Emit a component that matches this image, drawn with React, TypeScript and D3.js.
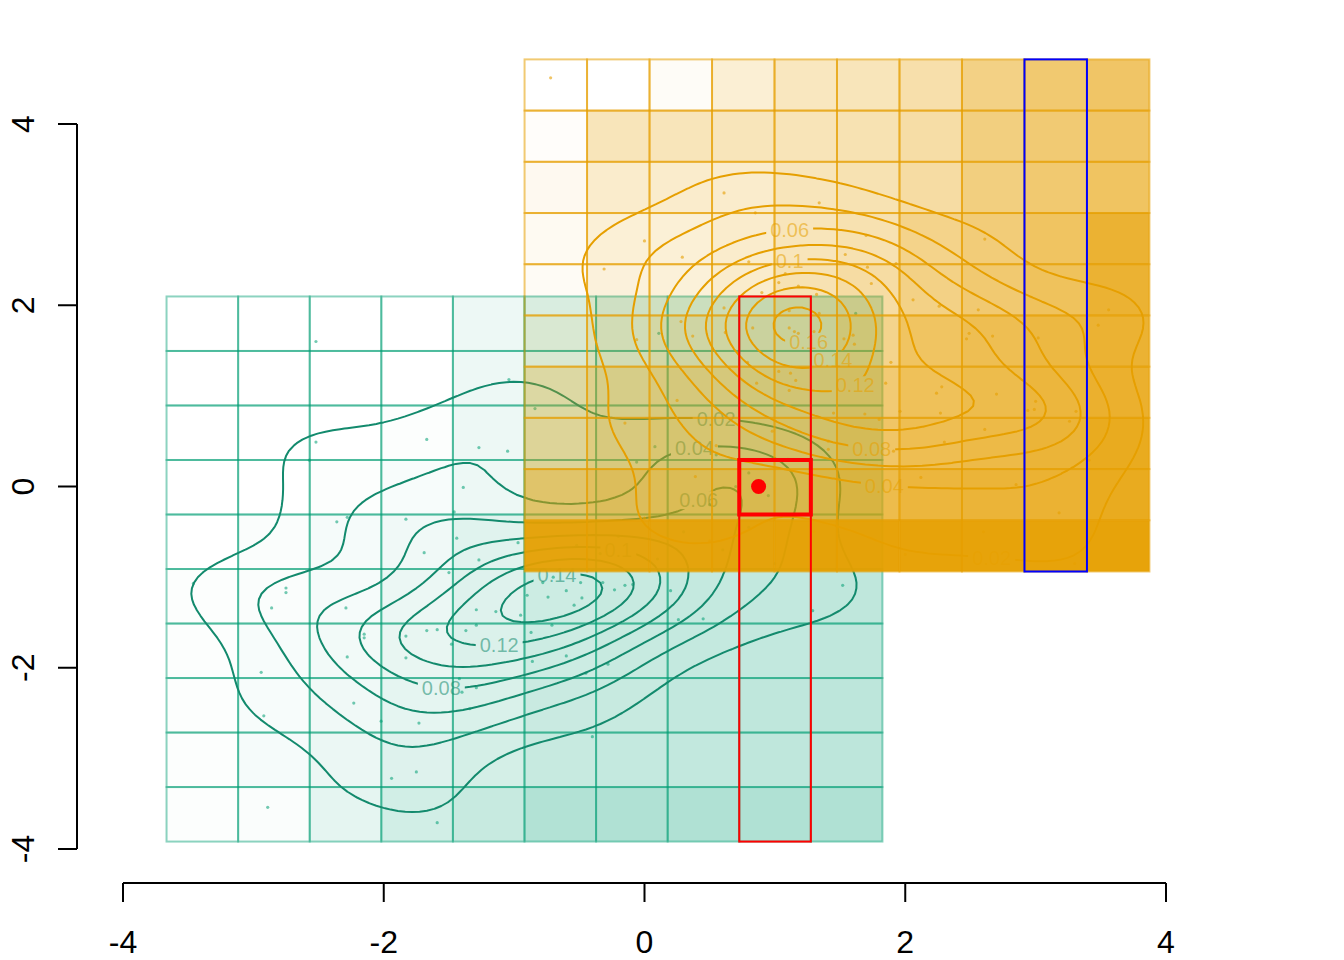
import React, { useMemo } from "react";
import * as d3 from "d3";

const W = 1344;
const H = 960;

const xTicks = [-4, -2, 0, 2, 4];
const yTicks = [-4, -2, 0, 2, 4];
const contourLevels = [0.02, 0.04, 0.06, 0.08, 0.1, 0.12, 0.14, 0.16, 0.18, 0.2];

// grid extents (sample ranges) of the two groups
const greenXRange = [-3.666, 1.825];
const greenYRange = [-3.918, 2.097];
const orangeXRange = [-0.92, 3.873];
const orangeYRange = [-0.938, 4.713];

// cell shading, row 0 = top row, col 0 = left column
const greenCellAlpha = [
  [0, 0, 0, 0, 0.07, 0.15, 0.2, 0.22, 0.25, 0.27],
  [0, 0, 0, 0, 0.07, 0.15, 0.2, 0.22, 0.25, 0.27],
  [0, 0, 0, 0.01, 0.07, 0.15, 0.2, 0.22, 0.25, 0.27],
  [0, 0, 0.01, 0.03, 0.07, 0.15, 0.2, 0.22, 0.25, 0.27],
  [0, 0.02, 0.04, 0.06, 0.12, 0.17, 0.2, 0.23, 0.25, 0.27],
  [0.01, 0.02, 0.04, 0.08, 0.13, 0.2, 0.22, 0.23, 0.24, 0.25],
  [0.01, 0.03, 0.05, 0.09, 0.14, 0.2, 0.22, 0.23, 0.24, 0.25],
  [0.01, 0.03, 0.06, 0.1, 0.15, 0.21, 0.22, 0.24, 0.25, 0.26],
  [0.01, 0.04, 0.08, 0.13, 0.17, 0.22, 0.23, 0.24, 0.25, 0.26],
  [0.01, 0.02, 0.1, 0.18, 0.22, 0.3, 0.31, 0.31, 0.31, 0.31],
];
const orangeCellAlpha = [
  [0, 0, 0.03, 0.17, 0.25, 0.27, 0.33, 0.48, 0.56, 0.6],
  [0.02, 0.27, 0.27, 0.27, 0.28, 0.3, 0.35, 0.5, 0.55, 0.6],
  [0.06, 0.2, 0.2, 0.2, 0.27, 0.3, 0.36, 0.5, 0.56, 0.62],
  [0.05, 0.16, 0.16, 0.2, 0.27, 0.31, 0.46, 0.53, 0.62, 0.8],
  [0.04, 0.14, 0.15, 0.2, 0.3, 0.36, 0.48, 0.56, 0.64, 0.8],
  [0.1, 0.2, 0.27, 0.28, 0.3, 0.45, 0.62, 0.68, 0.74, 0.8],
  [0.3, 0.4, 0.45, 0.45, 0.48, 0.55, 0.65, 0.7, 0.76, 0.82],
  [0.35, 0.45, 0.5, 0.5, 0.52, 0.6, 0.68, 0.72, 0.78, 0.88],
  [0.55, 0.6, 0.62, 0.64, 0.66, 0.7, 0.76, 0.78, 0.8, 0.88],
  [0.94, 0.94, 0.94, 0.95, 0.96, 0.96, 0.96, 0.96, 0.96, 0.96],
];

const greenPoints: [number, number][] = [
  [-2.52, 1.6], [-1.04, 1.18], [-0.84, 0.86], [-2.52, 0.49], [-1.67, 0.52], [-1.27, 0.43],
  [-1.05, 0.39], [-2.57, 0.29], [-1.39, -0.01], [-0.06, 0.27], [0.08, 0.44], [-2.36, -0.39],
  [-2.28, -0.34], [-1.83, -0.36], [-1.46, -0.28], [-1.44, -0.57], [-1.69, -0.73], [-1.5, -0.95],
  [-0.97, -0.62], [-1.27, -0.81], [-3.46, -1.07], [-2.75, -1.12], [-2.75, -1.17], [-2.86, -1.34],
  [-2.29, -1.34], [-1.29, -1.36], [-1.29, -1.53], [-1.67, -1.59], [-1.59, -1.58], [-1.37, -1.59],
  [-2.15, -1.63], [-2.15, -1.67], [-1.83, -1.65], [-1.48, -1.74], [-2.28, -1.88], [-1.83, -1.89],
  [-2.94, -2.05], [-1.42, -2.12], [-1.29, -2.22], [-1.4, -2.27], [-2.23, -2.39], [-1.34, -2.45],
  [-2.92, -2.53], [-2.02, -2.59], [-1.73, -2.61], [-1.75, -3.15], [-1.94, -3.22], [-2.89, -3.54],
  [-1.59, -3.71], [-0.52, -0.65], [-0.34, -0.74], [-0.78, -1.06], [-0.49, -1.06], [-0.32, -1.06],
  [-0.23, -1.14], [-0.15, -1.09], [-0.09, -1.08], [-0.74, -1.22], [-0.48, -1.23], [-0.54, -1.31],
  [-1.14, -1.38], [-0.95, -1.42], [0.2, -1.15], [0.26, -1.47], [0.45, -1.46], [-0.87, -1.61],
  [-0.71, -1.53], [-0.86, -1.93], [-0.6, -1.87], [-0.45, -2.06], [-0.28, -1.96], [1.52, -1.09],
  [1.29, -1.37], [-0.4, -2.76], [1.62, 1.91], [0.11, 1.69],
  // under the orange block
  [0.3, -0.5], [0.6, -0.7], [0.8, -0.45], [0.5, -0.2], [1.0, -0.85], [-0.2, -0.55], [0.1, -0.8],
  [0.55, 0.35], [0.8, 0.15], [0.95, -0.1], [0.7, 0.0], [1.1, 0.3],
  [-0.7, -1.0], [-0.6, -1.15], [-0.9, -1.2],
];

const orangePoints: [number, number][] = [
  [-0.72, 4.51], [0.61, 3.24], [1.34, 3.13], [0.85, 3.02], [0.0, 2.71], [0.29, 2.53],
  [-0.31, 2.4], [0.8, 2.48], [1.08, 2.35], [1.03, 2.25], [1.18, 2.21], [0.9, 2.14],
  [1.32, 2.12], [0.61, 1.97], [1.11, 1.94], [1.34, 1.91], [2.61, 2.73], [1.7, 2.77],
  [1.54, 2.56], [1.71, 2.42], [1.74, 2.24], [1.93, 2.46], [2.06, 2.06], [2.26, 1.99],
  [2.56, 1.95], [3.56, 1.95], [-0.06, 1.62], [0.28, 1.82], [0.37, 1.66], [0.62, 1.7],
  [0.79, 1.37], [0.86, 1.14], [1.03, 1.27], [1.12, 1.25], [1.16, 1.17], [1.11, 1.06],
  [1.11, 1.75], [1.15, 1.71], [1.18, 1.69], [1.3, 1.71], [0.39, 0.11], [0.0, -0.35],
  [1.41, 0.5], [1.41, 0.41], [0.98, 0.61], [3.48, 1.78], [1.53, 1.63], [1.6, 1.67],
  [1.61, 1.57], [1.89, 1.37], [1.85, 1.14], [2.49, 1.69], [2.47, 1.63], [2.67, 1.66],
  [3.02, 1.64], [2.28, 1.1], [2.24, 1.03], [2.7, 1.02], [3.0, 0.94], [2.99, 0.85],
  [2.94, 0.84], [3.31, 0.83], [3.26, 0.72], [1.69, 0.8], [1.8, 0.74], [1.96, 0.83],
  [2.27, 0.81], [2.61, 0.63], [2.3, 0.49], [1.91, 0.39], [3.41, 0.29], [2.12, 0.1],
  [2.85, 0.02], [3.18, -0.29], [1.45, 0.81], [0.83, 1.75],
  // hidden in the bottom row / overlap
  [0.5, -0.6], [1.3, -0.5], [2.0, -0.75], [2.6, -0.5], [3.3, -0.85],
  [-0.15, 0.7], [0.25, 0.95], [0.55, 0.45],
];

// where the contour labels sit: [level, x, y]
const greenLabelSpots: [number, number, number][] = [
  [0.02, 0.56, 0.88], [0.04, 0.37, 0.52], [0.06, 0.23, 0.22], [0.08, -1.56, -2.25],
  [0.1, -0.15, -0.3], [0.12, -1.13, -1.68], [0.14, -0.65, -0.95],
];
const orangeLabelSpots: [number, number, number][] = [
  [0.02, 2.65, -0.6], [0.04, 1.8, -0.35], [0.06, 1.09, 2.97], [0.08, 1.7, 0.06],
  [0.1, 1.11, 2.63], [0.12, 1.88, 0.54], [0.14, 1.63, 0.97], [0.16, 1.36, 1.36],
];

const redColumn = 8;
const redRow = 3;
const blueColumn = 8;
const redPoint = [0.875, 0];

const GREEN = "#009E73";
const GREEN_LINE = "#138a6d";
const ORANGE = "#E69F00";
const FONT = "'Liberation Sans', Arial, Helvetica, sans-serif";

const x = d3.scaleLinear().domain([-4, 4]).range([123, 1166]);
const y = d3.scaleLinear().domain([-4, 4]).range([849, 124]);

// normal-reference bandwidth (sd of the kernel), as in bandwidth.nrd / 4
function bw(v: number[]) {
  const s = d3.deviation(v) as number;
  const sorted = v.slice().sort(d3.ascending);
  const iqr = (d3.quantile(sorted, 0.75) as number) - (d3.quantile(sorted, 0.25) as number);
  return 1.06 * Math.min(s, iqr / 1.34) * Math.pow(v.length, -0.2);
}

function kde(points: [number, number][], xr: number[], yr: number[], n = 100) {
  const hx = bw(points.map((p) => p[0]));
  const hy = bw(points.map((p) => p[1]));
  const gx = d3.range(n).map((i) => xr[0] + (i * (xr[1] - xr[0])) / (n - 1));
  const gy = d3.range(n).map((j) => yr[0] + (j * (yr[1] - yr[0])) / (n - 1));
  const phi = (u: number) => Math.exp(-0.5 * u * u) / Math.sqrt(2 * Math.PI);
  const kx = gx.map((g) => points.map((p) => phi((g - p[0]) / hx)));
  const ky = gy.map((g) => points.map((p) => phi((g - p[1]) / hy)));
  const values: number[] = new Array(n * n);
  for (let j = 0; j < n; j++)
    for (let i = 0; i < n; i++) {
      let s = 0;
      const a = kx[i], b = ky[j];
      for (let k = 0; k < points.length; k++) s += a[k] * b[k];
      values[j * n + i] = s / (points.length * hx * hy);
    }
  const dx = (xr[1] - xr[0]) / (n - 1);
  const dy = (yr[1] - yr[0]) / (n - 1);
  const toPx = (pt: number[]) => [x(xr[0] + (pt[0] - 0.5) * dx), y(yr[0] + (pt[1] - 0.5) * dy)];
  const maxV = d3.max(values) as number;
  const levels = contourLevels.filter((l) => l < maxV);
  const polys = d3.contours().size([n, n]).thresholds(levels)(values);
  return polys.map((mp) => {
    const rings = mp.coordinates.flat().map((ring) => ring.map(toPx));
    const d = rings.map((r) => "M" + r.map((p) => p[0].toFixed(1) + "," + p[1].toFixed(1)).join("L") + "Z").join("");
    return { level: mp.value, rings, d };
  });
}

function textWidth(s: string, size: number) {
  let w = 0;
  for (const ch of s) w += ch === "." ? 0.278 : 0.556;
  return w * size;
}

function placeLabels(contours: any[], spots: [number, number, number][], xr: number[], yr: number[]) {
  const fs = 20;
  const out: any[] = [];
  for (const [lv, sx, sy] of spots) {
    const c = contours.find((k) => Math.abs(k.level - lv) < 1e-9);
    if (!c) continue;
    const tx = x(sx), ty = y(sy);
    let best: number[] | null = null;
    let bd = Infinity;
    for (const r of c.rings)
      for (const p of r) {
        if (p[0] < x(xr[0]) || p[0] > x(xr[1]) || p[1] > y(yr[0]) || p[1] < y(yr[1])) continue;
        const dd = (p[0] - tx) ** 2 + (p[1] - ty) ** 2;
        if (dd < bd) { bd = dd; best = p; }
      }
    if (!best) continue;
    const txt = String(+lv.toFixed(2));
    out.push({ x: best[0], y: best[1], txt, w: textWidth(txt, fs) + 8, fs });
  }
  return out;
}

function Grid({ xr, yr, alpha, color, lineAlpha }: { xr: number[]; yr: number[]; alpha: number[][]; color: string; lineAlpha: number }) {
  const cw = (xr[1] - xr[0]) / 10;
  const ch = (yr[1] - yr[0]) / 10;
  const cells: any[] = [];
  alpha.forEach((row, r) =>
    row.forEach((a, c) => {
      const x0 = x(xr[0] + c * cw), x1 = x(xr[0] + (c + 1) * cw);
      const yt = y(yr[1] - r * ch), yb = y(yr[1] - (r + 1) * ch);
      cells.push(
        <rect key={r + "-" + c} x={x0} y={yt} width={x1 - x0} height={yb - yt}
          fill={color} fillOpacity={a} stroke={color} strokeOpacity={lineAlpha} strokeWidth={2} />
      );
    })
  );
  return <g>{cells}</g>;
}

function Density({ id, points, xr, yr, spots, line, dot, dotOpacity }: any) {
  const contours = useMemo(() => kde(points, xr, yr), []);
  const labels = useMemo(() => placeLabels(contours, spots, xr, yr), [contours]);
  return (
    <g>
      <defs>
        <clipPath id={id + "-clip"}>
          <rect x={x(xr[0])} y={y(yr[1])} width={x(xr[1]) - x(xr[0])} height={y(yr[0]) - y(yr[1])} />
        </clipPath>
        <mask id={id + "-mask"} maskUnits="userSpaceOnUse" x={0} y={0} width={W} height={H}>
          <rect x={0} y={0} width={W} height={H} fill="white" />
          {labels.map((l: any, i: number) => (
            <rect key={i} x={l.x - l.w / 2} y={l.y - l.fs * 0.45} width={l.w} height={l.fs * 0.9} fill="black" />
          ))}
        </mask>
      </defs>
      {points.map((p: number[], i: number) => (
        <circle key={i} cx={x(p[0])} cy={y(p[1])} r={1.6} fill={dot} fillOpacity={dotOpacity} />
      ))}
      <g clipPath={`url(#${id}-clip)`}>
        <g mask={`url(#${id}-mask)`}>
          {contours.map((c: any, i: number) => (
            <path key={i} d={c.d} fill="none" stroke={line} strokeWidth={2} strokeLinejoin="round" />
          ))}
        </g>
      </g>
      {labels.map((l: any, i: number) => (
        <text key={i} x={l.x} y={l.y + l.fs * 0.36} textAnchor="middle" fontSize={l.fs}
          fontFamily={FONT} fill={line} fillOpacity={0.55}>{l.txt}</text>
      ))}
    </g>
  );
}

export default function App() {
  const gcw = (greenXRange[1] - greenXRange[0]) / 10;
  const gch = (greenYRange[1] - greenYRange[0]) / 10;
  const ocw = (orangeXRange[1] - orangeXRange[0]) / 10;
  const rx0 = x(greenXRange[0] + redColumn * gcw), rx1 = x(greenXRange[0] + (redColumn + 1) * gcw);
  const ryt = y(greenYRange[1] - redRow * gch), ryb = y(greenYRange[1] - (redRow + 1) * gch);
  const bx0 = x(orangeXRange[0] + blueColumn * ocw), bx1 = x(orangeXRange[0] + (blueColumn + 1) * ocw);

  return (
    <svg width={W} height={H} style={{ position: "absolute", left: 0, top: 0, background: "white" }}>
      <rect width={W} height={H} fill="white" />
      <Grid xr={greenXRange} yr={greenYRange} alpha={greenCellAlpha} color={GREEN} lineAlpha={0.45} />
      <Density id="green" points={greenPoints} xr={greenXRange} yr={greenYRange} spots={greenLabelSpots}
        line={GREEN_LINE} dot={GREEN} dotOpacity={0.55} />
      <Density id="orange" points={orangePoints} xr={orangeXRange} yr={orangeYRange} spots={orangeLabelSpots}
        line={ORANGE} dot={ORANGE} dotOpacity={0.6} />
      <Grid xr={orangeXRange} yr={orangeYRange} alpha={orangeCellAlpha} color={ORANGE} lineAlpha={0.55} />

      <rect x={rx0} y={y(greenYRange[1])} width={rx1 - rx0} height={y(greenYRange[0]) - y(greenYRange[1])}
        fill="none" stroke="#FF0000" strokeWidth={2} />
      <rect x={rx0} y={ryt} width={rx1 - rx0} height={ryb - ryt} fill="none" stroke="#FF0000" strokeWidth={4} />
      <rect x={bx0} y={y(orangeYRange[1])} width={bx1 - bx0} height={y(orangeYRange[0]) - y(orangeYRange[1])}
        fill="none" stroke="#0000FF" strokeWidth={2} />
      <circle cx={x(redPoint[0])} cy={y(redPoint[1])} r={7.5} fill="#FF0000" />

      <g stroke="black" strokeWidth={2} fill="none">
        <line x1={x(xTicks[0])} x2={x(xTicks[xTicks.length - 1])} y1={883} y2={883} />
        {xTicks.map((t) => <line key={t} x1={x(t)} x2={x(t)} y1={883} y2={902} />)}
        <line x1={77} x2={77} y1={y(yTicks[0])} y2={y(yTicks[yTicks.length - 1])} />
        {yTicks.map((t) => <line key={t} x1={77} x2={58} y1={y(t)} y2={y(t)} />)}
      </g>
      <g fontFamily={FONT} fontSize={32} fill="black">
        {xTicks.map((t) => (
          <text key={t} x={x(t)} y={953} textAnchor="middle">{String(t)}</text>
        ))}
        {yTicks.map((t) => (
          <text key={t} transform={`translate(33.5,${y(t)}) rotate(-90)`} textAnchor="middle">{String(t)}</text>
        ))}
      </g>
    </svg>
  );
}
